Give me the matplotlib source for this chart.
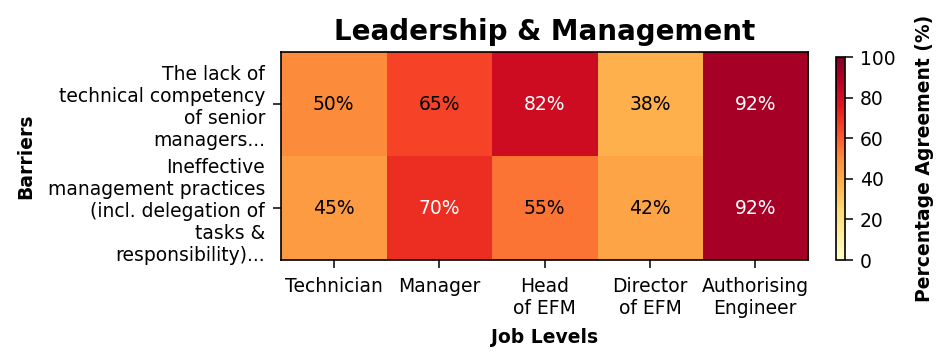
import numpy as np
import matplotlib
matplotlib.use("Agg")
import matplotlib.pyplot as plt

# data
job_levels = ["Technician", "Manager", "Head\nof EFM", "Director\nof EFM", "Authorising\nEngineer"]
barriers = ["The lack of\ntechnical competency\nof senior\nmanagers...",
            "Ineffective\nmanagement practices\n(incl. delegation of\ntasks &\nresponsibility)..."]
lack_competency = [50, 65, 82, 38, 92]
ineffective_mgmt = [45, 70, 55, 42, 92]

vals = np.array([lack_competency, ineffective_mgmt])

fs = 13.5
fig = plt.figure(figsize=(9.45, 3.64), dpi=100)
ax = fig.add_axes([0.2974, 0.2857, 0.5577, 0.5714])
cax = fig.add_axes([0.8847, 0.2857, 0.0095, 0.5577])

im = ax.imshow(vals, cmap="YlOrRd", vmin=0, vmax=100, aspect="auto")

for i in range(vals.shape[0]):
    for j in range(vals.shape[1]):
        v = vals[i, j]
        ax.text(j, i, f"{v}%", ha="center", va="center", fontsize=fs,
                color="white" if v > 67 else "black")

ax.set_xticks(range(len(job_levels)))
ax.set_xticklabels(job_levels, fontsize=fs)
ax.set_yticks(range(len(barriers)))
ax.set_yticklabels(barriers, fontsize=fs, ha="right")
ax.set_xlabel("Job Levels", fontsize=fs, fontweight="bold", labelpad=7)
ax.set_ylabel("Barriers", fontsize=fs, fontweight="bold", labelpad=9)
ax.set_title("Leadership & Management", fontsize=20, fontweight="heavy", pad=9)
ax.tick_params(axis="x", length=5.5, width=1.1, pad=7)
ax.tick_params(axis="y", length=5.5, width=1.1, pad=6)
for s in ax.spines.values():
    s.set_linewidth(1.2)

cb = fig.colorbar(im, cax=cax)
cb.set_label("Percentage Agreement (%)", fontsize=fs, fontweight="bold", labelpad=14)
cb.ax.tick_params(labelsize=fs, length=5.5, width=1.1, pad=5)
cb.outline.set_linewidth(1.2)

fig.savefig("out.png", dpi=100)
